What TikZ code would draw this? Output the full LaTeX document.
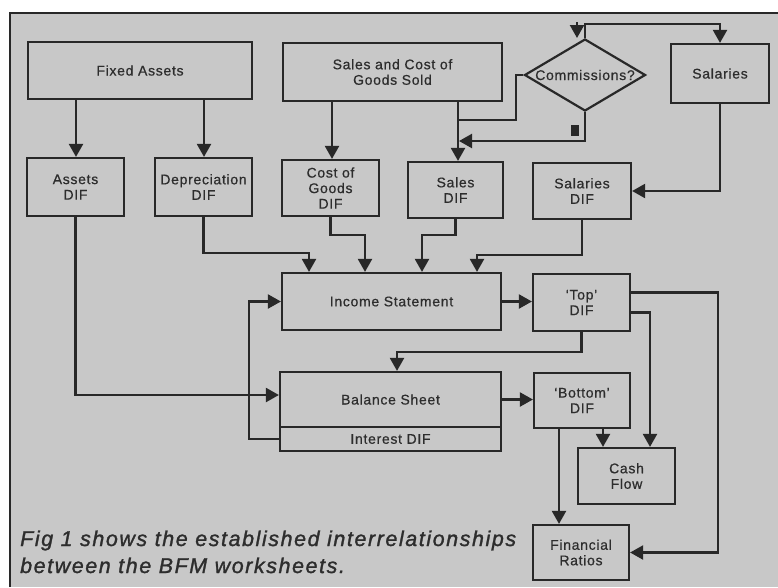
\documentclass[tikz,border=0pt]{standalone}
\usepackage{fontspec}
\setmainfont{Liberation Sans}
\newfontfamily\boxfont{Liberation Sans}[LetterSpace=5,FakeBold=0.6]
\newfontfamily\capfont{Liberation Sans}[LetterSpace=7.5,FakeBold=1.4]
\usetikzlibrary{arrows.meta,shapes.geometric}
\definecolor{bgcol}{RGB}{200,200,200}
\definecolor{linecol}{RGB}{40,40,40}
\definecolor{txtcol}{RGB}{45,45,45}
\tikzset{
  box/.style={draw=linecol, line width=2.2pt, fill=bgcol, inner sep=1pt, align=center,
    text=txtcol, font=\boxfont\fontsize{14}{15.5}\selectfont},
  ln/.style={draw=linecol, line width=2.2pt},
  arr/.style={ln, -{Triangle[width=14pt,length=13pt]}},
  sqmark/.style={fill=linecol, minimum width=8pt, minimum height=11pt, inner sep=0pt},
  captxt/.style={anchor=base west, inner sep=0pt, text=txtcol, font=\capfont\itshape\fontsize{21.4}{27}\selectfont}
}
\begin{document}
\begin{tikzpicture}[x=1pt,y=-1pt]
\useasboundingbox (0,0) rectangle (778,587);
\fill[white] (0,0) rectangle (778,587);
\fill[bgcol] (10,13) rectangle (778,587);
\draw[linecol, line width=2.5pt] (10,587) -- (10,13) -- (778,13);

% boxes
\node[box, minimum width=224pt, minimum height=57pt] (fa) at (140,70.5) {Fixed Assets};
\node[box, minimum width=219pt, minimum height=58pt] (sc) at (392.5,72) {Sales and Cost of\\Goods Sold};
\node[draw=linecol, line width=2.2pt, fill=bgcol, shape=diamond, minimum width=121pt, minimum height=72pt, inner sep=0pt] (com) at (585,75) {};
\node[text=txtcol, font=\boxfont\fontsize{14}{15.5}\selectfont, inner sep=0pt] (comtxt) at (com.center) {Commissions?};
\node[box, minimum width=98pt, minimum height=59pt] (sal) at (720,73.5) {Salaries};

\node[box, minimum width=97pt, minimum height=58pt] (adif) at (75.5,187) {Assets\\DIF};
\node[box, minimum width=97pt, minimum height=58pt] (ddif) at (203.5,187) {Depreciation\\DIF};
\node[box, minimum width=97pt, minimum height=56pt] (cdif) at (330.5,188) {Cost of\\Goods\\DIF};
\node[box, minimum width=95pt, minimum height=56pt] (sdif) at (455.5,190) {Sales\\DIF};
\node[box, minimum width=98pt, minimum height=56pt] (saldif) at (582,191) {Salaries\\DIF};

\node[box, minimum width=219pt, minimum height=57pt] (inc) at (391.5,301.5) {Income Statement};
\node[box, minimum width=97pt, minimum height=57pt] (top) at (581.5,302.5) {‘Top’\\DIF};
\node[box, minimum width=221pt, minimum height=55pt] (bal) at (390.5,399.5) {Balance Sheet};
\node[box, minimum width=221pt, minimum height=24pt] (int) at (390.5,439) {Interest DIF};
\node[box, minimum width=96pt, minimum height=55pt] (bot) at (582,400.5) {‘Bottom’\\DIF};
\node[box, minimum width=97pt, minimum height=56pt] (cf) at (626.5,476) {Cash\\Flow};
\node[box, minimum width=96pt, minimum height=55pt] (fr) at (581,552.5) {Financial\\Ratios};

\node[sqmark] (sq) at (575,130) {};

% connectors
\draw[arr] (76,0 |- fa.south) -- (76,0 |- adif.north);
\draw[arr] (204,0 |- fa.south) -- (204,0 |- ddif.north);
\draw[arr] (332,0 |- sc.south) -- (332,0 |- cdif.north);
\draw[arr] (458,0 |- sc.south) -- (458,0 |- sdif.north);
\draw[ln] (com.west) -| (516,120) -- (458,120);
\draw[arr] (com.south) |- (459,141);
\draw[arr] (com.north) |- (720,24) -- (sal.north);
\coordinate (ctop) at (577,22);
\draw[arr] (ctop) -- (577,38);
\draw[arr] (sal.south) |- (saldif.east);

\draw[arr] (adif.south) |- ([yshift=4.5pt]bal.west);
\draw[arr] (ddif.south) |- (309,253) -- (309,0 |- inc.north);
\draw[arr] (cdif.south) |- (365,235) -- (365,0 |- inc.north);
\draw[arr] (sdif.south) |- (422,235) -- (422,0 |- inc.north);
\draw[arr] (saldif.south) |- (477,255) -- (477,0 |- inc.north);

\draw[arr] (inc.east) -- (inc.east -| top.west);
\draw[arr] (top.south) |- (397,352) -- (397,0 |- bal.north);
\draw[arr] ([yshift=10pt]top.east) -| (718,0 |- fr.east) -- (fr.east);
\draw[arr] ([yshift=-10pt]top.east) -| (cf.north -| 650,0);
\draw[arr] (bal.east) -- (bal.east -| bot.west);
\draw[arr] (603,0 |- bot.south) -- (603,0 |- cf.north);
\draw[arr] (559,0 |- bot.south) -- (559,0 |- fr.north);
\draw[arr] (int.west) -- (int.west -| 249,0) |- (inc.west);

% caption
\node[captxt] (cap1) at (20,546) {Fig 1 shows the established interrelationships};
\node[captxt] (cap2) at (20,573) {between the BFM worksheets.};
\end{tikzpicture}
\end{document}
